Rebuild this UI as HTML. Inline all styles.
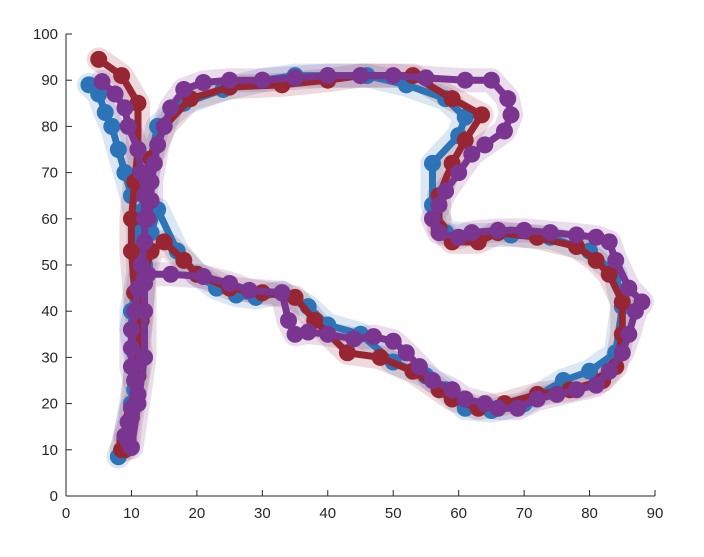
<!DOCTYPE html>
<html><head><meta charset="utf-8"><style>
body{margin:0;background:#fff;}
svg text{font-family:"Liberation Sans",sans-serif;font-size:15px;fill:#262626;}
</style></head><body>
<svg id="chart" width="704" height="552">
<g id="plot"></g>
<g id="axes"></g>
</svg>
<script>
const xTicks=[0,10,20,30,40,50,60,70,80,90];
const yTicks=[0,10,20,30,40,50,60,70,80,90,100];
const blueX=[3.5,5,6,7,8,9,10,11,11,11,10.5,10,10,10.5,11,10.5,10,9.5,9,8.5,8, 9,10.5,11.5,12,13,14,17,20,23,26,29,33,37,40,45,50,55,58,61,65,70,76,80,84,85,84,80,74,68,62,58,56,56,60,61,58,52,46,40,35,30,24,18,14,12.5,12];
const blueY=[89,87,83,80,75,70,65,58,52,48,44,40,36,31,27,23,20,16,13,10,8.5, 12,25,40,50,57,62,53,48,45,43.5,43,44,41,37,35,29,26,23,19,18.5,20,25,27,31,41,48,53,56,56.5,56.5,57,63,72,78,82,86,89,91,91,91,90,88,85,80,70,62];
const redX=[5,8.5,11,11,10.5,10,10,10.5,11,11.5,11,10,9,8.5,9,9.5, 10.5,11.5,12,13,15,18,20,25,30,35,38,43,48,53,57,59,63,67,72,77,82,84,85,85,83,81,78,72,66,63,59,57,57,59,61,63.5,59,53,45,40,33,25,19,15,13,12];
const redY=[94.5,91,85,75,68,60,53,44,36,30,26,17,12,10,10,11, 25,38,48,53,55,51,48,45,44,43,38,31,30,27,23,21,19,20,22,23,25,28,35,42,48,51,54,56,57,55,55,58,65,72,77,82.5,86,91,91,90,89,88.5,86,80,73,67];
const purpX=[5.5,7.5,9,9.5,11,11.5,12,12,12,11.5,11,10.5,10,10,10,10.5,11,10,9.5,9,9.5,10, 11,12,12,12,12.5,16,21,25,28,33,34,35,37,40,44,47,50,52,54,56,59,61,64,66,69,72,75,78,81,83,85,86,87,88,86,84,83,81,78,74,70,66,62,60,57,56,57,58,60,62,64,67,68,67.5,65,61,55,50,45,40,35,30,25,21,18,16,15,14,13.5,13,13,12.5];
const purpY=[89.7,87,84,80,75,70,65,60,55,50,45,40,36,32,28,25,22,19,16,13,12,10.5, 20,30,40,46,48,48,47.5,46,44.5,44,38,35,35.5,35,34,34.5,33.5,31,28,25,23,21,20,19,19,21,22,23,24,27,31,35,40,42,45,51,55,56,56.5,57,57.5,57.5,57,56,57,60,63,66,70,74,76,79,82.5,86,90,90,90.5,91,91,91,90.5,90,90,89.5,88,84,80,76,72,68,64,60];

const X0=66,X1=655,Y0=496,Y1=34;
const sx=v=>X0+(v-0)/(90-0)*(X1-X0);
const sy=v=>Y0-(v-0)/(100-0)*(Y0-Y1);
const NS="http://www.w3.org/2000/svg";
const plot=document.getElementById('plot');
const axes=document.getElementById('axes');
function mk(tag,attrs,parent){const e=document.createElementNS(NS,tag);for(const k in attrs)e.setAttribute(k,attrs[k]);parent.appendChild(e);return e;}
const series=[
 {xs:blueX,ys:blueY,c:'#2c73b8',n:'blue'},
 {xs:redX,ys:redY,c:'#982632',n:'red'},
 {xs:purpX,ys:purpY,c:'#7a3590',n:'purple'}];
series.forEach(s=>{
  const pts=s.xs.map((x,i)=>sx(x)+','+sy(s.ys[i])).join(' ');
  const band=mk('polyline',{points:pts,fill:'none',stroke:s.c,'stroke-width':24,'stroke-opacity':0.17,'stroke-linejoin':'round','stroke-linecap':'round'},plot);
  
  
});
series.forEach(s=>{
  const pts=s.xs.map((x,i)=>sx(x)+','+sy(s.ys[i])).join(' ');
  const g=mk('g',{},plot);
  
  
  const line=mk('polyline',{points:pts,fill:'none',stroke:s.c,'stroke-width':7,'stroke-linejoin':'round'},g);
  
  
  s.xs.forEach((x,i)=>{
    const c=mk('circle',{cx:sx(x),cy:sy(s.ys[i]),r:8.5,fill:s.c},g);
    
    
  });
});
mk('line',{x1:X0,y1:Y0,x2:X1,y2:Y0,stroke:'#262626','stroke-width':1},axes);
mk('line',{x1:X0,y1:Y0,x2:X0,y2:Y1,stroke:'#262626','stroke-width':1},axes);
xTicks.forEach(t=>{
  mk('line',{x1:sx(t),y1:Y0,x2:sx(t),y2:Y0-6,stroke:'#262626'},axes);
  const tx=mk('text',{x:sx(t),y:Y0+22,'text-anchor':'middle'},axes);tx.textContent=t;
  
  
});
yTicks.forEach(t=>{
  mk('line',{x1:X0,y1:sy(t),x2:X0+6,y2:sy(t),stroke:'#262626'},axes);
  const tx=mk('text',{x:X0-8,y:sy(t)+5,'text-anchor':'end'},axes);tx.textContent=t;
  
  
});
</script>
</body></html>
